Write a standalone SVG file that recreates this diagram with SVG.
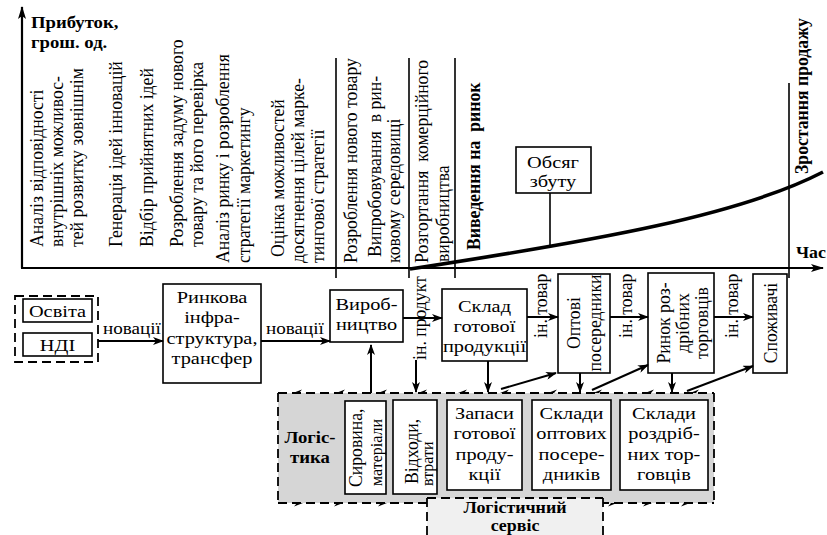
<svg xmlns="http://www.w3.org/2000/svg" width="827" height="535" viewBox="0 0 827 535" font-family="'Liberation Serif', 'Times New Roman', 'DejaVu Serif', serif">
<style>
text{font-family:'Liberation Serif','Times New Roman','DejaVu Serif',serif}
.t{font-size:17.7px;fill:#000}
.b{font-weight:bold}
.hb{font-size:17px}
.m{text-anchor:middle}
.box{fill:#fff;stroke:#000;stroke-width:1.6}
.dash{stroke:#000;stroke-width:1.8;stroke-dasharray:9 5}
.ln{stroke:#000;stroke-width:1.6;fill:none}
.ax{stroke:#000;stroke-width:2.2;fill:none;marker-end:url(#axh)}
.arr{stroke:#000;stroke-width:2;fill:none;marker-end:url(#ah)}
.barb{fill:#000}
</style>
<defs>
<marker id="ah" markerWidth="11" markerHeight="8" refX="10" refY="4" orient="auto" markerUnits="userSpaceOnUse">
<path d="M0,0 L11,4 L0,8 L3,4 z" fill="#000"/>
</marker>
<marker id="axh" markerWidth="13" markerHeight="8" refX="12" refY="4" orient="auto" markerUnits="userSpaceOnUse">
<path d="M0,0 L13,4 L0,8 L3,4 z" fill="#000"/>
</marker>
</defs>

<g id="chart">
<line class="ax" x1="22" y1="268" x2="22" y2="7"/>
<line class="ax" x1="21" y1="268" x2="823" y2="268"/>
<line class="ln" x1="336" y1="58" x2="336" y2="278"/>
<line class="ln" x1="409" y1="58" x2="409" y2="278"/>
<line class="ln" x1="455" y1="58" x2="455" y2="278"/>
<line class="ln" x1="789" y1="83" x2="789" y2="278"/>
<path d="M410,269 C600,240 740,215 823,172" fill="none" stroke="#000" stroke-width="3.6"/>
<text class="t b hb" transform="matrix(1.1 0 0 1 31 28)">Прибуток,</text>
<text class="t b hb" transform="matrix(1.1 0 0 1 31 48)">грош. од.</text>
<text class="t b hb" transform="matrix(1.05 0 0 1 796 258)">Час</text>
</g>

<g id="stages">
<text class="t" transform="matrix(0 -1 1.1 0 43 247)">Аналіз відповідності</text>
<text class="t" transform="matrix(0 -1 1.1 0 63 247)">внутрішніх можливос-</text>
<text class="t" transform="matrix(0 -1 1.1 0 83 247)">тей розвитку зовнішнім</text>
<text class="t" transform="matrix(0 -1 1.1 0 122 247)">Генерація ідей інновацій</text>
<text class="t" transform="matrix(0 -1 1.1 0 153 247)">Відбір прийнятних ідей</text>
<text class="t" transform="matrix(0 -1 1.1 0 183 247)">Розроблення задуму нового</text>
<text class="t" transform="matrix(0 -1 1.1 0 203 247)">товару та його перевірка</text>
<text class="t" transform="matrix(0 -1 1.1 0 229 263)">Аналіз ринку і розроблення</text>
<text class="t" transform="matrix(0 -1 1.1 0 250 263)">стратегії маркетингу</text>
<text class="t" transform="matrix(0 -1 1.1 0 284 257)">Оцінка можливостей</text>
<text class="t" transform="matrix(0 -1 1.1 0 304 263)">досягнення цілей марке-</text>
<text class="t" transform="matrix(0 -1 1.1 0 324 263)">тингової стратегії</text>
<text class="t" transform="matrix(0 -1 1.1 0 357 263)">Розроблення нового товару</text>
<text class="t" xml:space="preserve" transform="matrix(0 -1 1.1 0 381 257)">Випробовування  в рин-</text>
<text class="t" transform="matrix(0 -1 1.1 0 400 263)">ковому середовищі</text>
<text class="t" xml:space="preserve" transform="matrix(0 -1 1.1 0 428 263)">Розгортання  комерційного</text>
<text class="t" transform="matrix(0 -1 1.1 0 449 262)">виробництва</text>
<text class="t b" xml:space="preserve" transform="matrix(0 -1 1.1 0 480 250)">Виведення на  ринок</text>
<text class="t b" transform="matrix(0 -1 1.1 0 808 174)">Зростання продажу</text>
</g>

<g id="obsyag">
<line class="ln" x1="550" y1="193" x2="550" y2="247"/>
<rect class="box" x="516" y="147" width="75" height="46"/>
<text class="t m" transform="matrix(1.15 0 0 1 553 168)"><tspan x="0" y="0">Обсяг</tspan><tspan x="0" y="19">збуту</tspan></text>
</g>

<g id="logistics">
<rect x="278" y="393" width="436" height="110" fill="#d6d6d6"/>
<line class="dash" x1="278" y1="393" x2="714" y2="393"/>
<line class="dash" x1="278" y1="503" x2="714" y2="503"/>
<line class="dash" x1="278" y1="393" x2="278" y2="503"/>
<line class="dash" x1="714" y1="393" x2="714" y2="503"/>
<g class="barb">
<polygon points="293,393 302,389.5 299,393"/>
<polygon points="336,393 345,389.5 342,393"/>
<polygon points="378,393 387,389.5 384,393"/>
<polygon points="418,393 427,389.5 424,393"/>
<polygon points="458,393 467,389.5 464,393"/>
<polygon points="500,393 509,389.5 506,393"/>
<polygon points="548,393 557,389.5 554,393"/>
<polygon points="593,393 602,389.5 599,393"/>
<polygon points="645,393 654,389.5 651,393"/>
<polygon points="690,393 699,389.5 696,393"/>
<polygon points="303,503 294,506.5 297,503"/>
<polygon points="343,503 334,506.5 337,503"/>
<polygon points="387,503 378,506.5 381,503"/>
<polygon points="617,503 608,506.5 611,503"/>
<polygon points="652,503 643,506.5 646,503"/>
<polygon points="690,503 681,506.5 684,503"/>
</g>
<text class="t b hb m" transform="matrix(1.1 0 0 1 310 443)"><tspan x="0" y="0">Логіс-</tspan><tspan x="0" y="20">тика</tspan></text>
</g>

<g id="syrovyna">
<rect class="box" x="345" y="401" width="41" height="93"/>
<text class="t" transform="matrix(0 -1 1.1 0 362 487)">Сировина,</text>
<text class="t" style="font-size:16px" transform="matrix(0 -1 1.1 0 382 486)">матеріали</text>
</g>
<g id="vidkhody">
<rect class="box" x="393" y="400" width="44" height="94"/>
<text class="t" transform="matrix(0 -1 1.1 0 418 484)">Відходи,</text>
<text class="t" style="font-size:16px" transform="matrix(0 -1 1.1 0 433 486)">втрати</text>
</g>
<g id="zapasy">
<rect class="box" x="447" y="400" width="75" height="90"/>
<text class="t m" transform="matrix(1.15 0 0 1 484.5 419)"><tspan x="0" y="0">Запаси</tspan><tspan x="0" y="20.5">готової</tspan><tspan x="0" y="41">проду-</tspan><tspan x="0" y="61">кції</tspan></text>
</g>
<g id="sklady-opt">
<rect class="box" x="532" y="400" width="79" height="90"/>
<text class="t m" transform="matrix(1.15 0 0 1 571.5 419)"><tspan x="0" y="0">Склади</tspan><tspan x="0" y="20.5">оптових</tspan><tspan x="0" y="41">посере-</tspan><tspan x="0" y="61">дників</tspan></text>
</g>
<g id="sklady-rozdr">
<rect class="box" x="620" y="400" width="88" height="90"/>
<text class="t m" transform="matrix(1.15 0 0 1 664 419)"><tspan x="0" y="0">Склади</tspan><tspan x="0" y="20.5">роздріб-</tspan><tspan x="0" y="41">них тор-</tspan><tspan x="0" y="61">говців</tspan></text>
</g>
<g id="servis">
<rect x="427" y="498" width="176" height="45" fill="#f0f0f0"/>
<line class="dash" x1="427" y1="498" x2="603" y2="498"/>
<line class="dash" x1="427" y1="498" x2="427" y2="535"/>
<line class="dash" x1="603" y1="498" x2="603" y2="535"/>
<text class="t b m" style="font-size:16px" transform="matrix(1.12 0 0 1 515 513)"><tspan x="0" y="0">Логістичний</tspan><tspan x="0" y="18">сервіс</tspan></text>
</g>

<g id="osvita-ndi">
<rect x="15" y="296" width="83" height="66" fill="none" class="dash"/>
</g>
<g id="osvita">
<rect class="box" x="23" y="299" width="69" height="23"/>
<text class="t m" transform="matrix(1.15 0 0 1 57.5 317)">Освіта</text>
</g>
<g id="ndi">
<rect class="box" x="23" y="333" width="69" height="23"/>
<text class="t m" transform="matrix(1.15 0 0 1 57.5 351)">НДІ</text>
</g>
<g id="rynkova">
<rect class="box" x="163" y="284" width="98" height="99"/>
<text class="t m" transform="matrix(1.15 0 0 1 212 303)"><tspan x="0" y="0">Ринкова</tspan><tspan x="0" y="20.5">інфра-</tspan><tspan x="0" y="41">структура,</tspan><tspan x="0" y="61.5">трансфер</tspan></text>
</g>
<g id="vyrobnytstvo">
<rect class="box" x="330" y="290" width="73" height="52"/>
<text class="t m" transform="matrix(1.15 0 0 1 366.5 310)"><tspan x="0" y="0">Вироб-</tspan><tspan x="0" y="20">ництво</tspan></text>
</g>
<g id="sklad">
<rect class="box" x="442" y="289" width="85" height="72"/>
<text class="t m" transform="matrix(1.15 0 0 1 484.5 312)"><tspan x="0" y="0">Склад</tspan><tspan x="0" y="20">готової</tspan><tspan x="0" y="40">продукції</tspan></text>
</g>
<g id="optovi">
<rect class="box" x="558" y="274" width="52" height="99"/>
<text class="t m" transform="matrix(0 -1 1.1 0 580 323)">Оптові</text>
<text class="t m" transform="matrix(0 -1 1.1 0 601 323)">посередники</text>
</g>
<g id="rynok">
<rect class="box" x="648" y="273" width="66" height="100"/>
<text class="t m" transform="matrix(0 -1 1.1 0 670 323)">Ринок роз-</text>
<text class="t m" transform="matrix(0 -1 1.1 0 689 323)">дрібних</text>
<text class="t m" transform="matrix(0 -1 1.1 0 708 323)">торговців</text>
</g>
<g id="spozhyvachi">
<rect class="box" x="753" y="274" width="34" height="99"/>
<text class="t m" transform="matrix(0 -1 1.1 0 777 323)">Споживачі</text>
</g>

<g id="connectors">
<line class="arr" x1="98" y1="341" x2="163" y2="341"/>
<line class="arr" x1="261" y1="341" x2="330" y2="341"/>
<line class="arr" x1="403" y1="318" x2="442" y2="318"/>
<line class="arr" x1="527" y1="317" x2="558" y2="317"/>
<line class="arr" x1="610" y1="317" x2="648" y2="317"/>
<line class="arr" x1="714" y1="317" x2="753" y2="317"/>
<line class="arr" x1="371" y1="393" x2="371" y2="345"/>
<line class="arr" x1="416" y1="360" x2="416" y2="392"/>
<line class="arr" x1="488" y1="361" x2="488" y2="392"/>
<line class="arr" x1="580" y1="373" x2="580" y2="392"/>
<line class="arr" x1="672" y1="373" x2="672" y2="392"/>
<line class="arr" x1="501" y1="389" x2="556" y2="373"/>
<line class="arr" x1="592" y1="390" x2="648" y2="365"/>
<line class="arr" x1="687" y1="391" x2="753" y2="366"/>
<text class="t m" transform="matrix(1.08 0 0 1 132 334)">новації</text>
<text class="t m" transform="matrix(1.08 0 0 1 295 334)">новації</text>
<text class="t" transform="matrix(0 -1 1.1 0 426 360)">ін. продукт</text>
<text class="t" transform="matrix(0 -1 1.1 0 547 338)">ін. товар</text>
<text class="t" transform="matrix(0 -1 1.1 0 632 338)">ін. товар</text>
<text class="t" transform="matrix(0 -1 1.1 0 738 338)">ін. товар</text>
</g>
</svg>
